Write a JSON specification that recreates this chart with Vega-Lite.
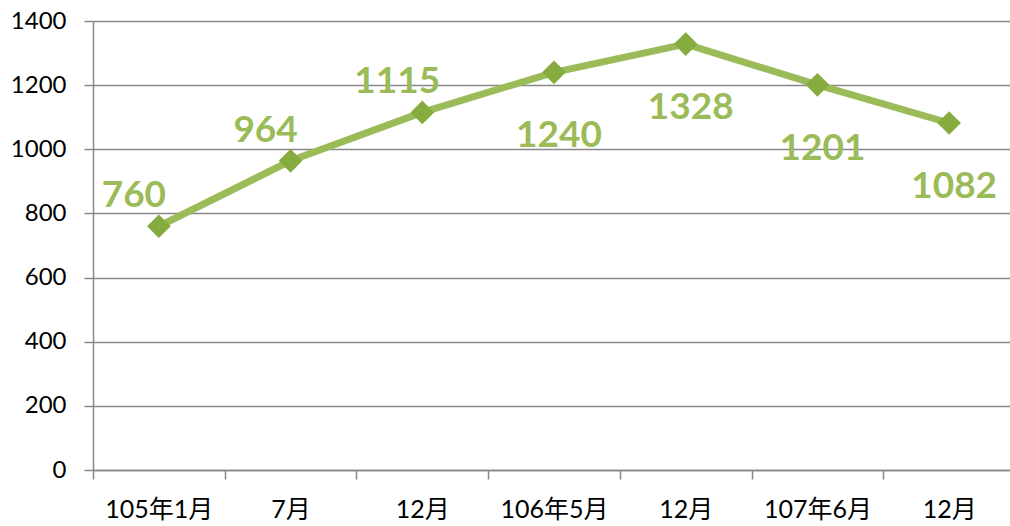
{
  "$schema": "https://vega.github.io/schema/vega-lite/v6.json",
  "width": 922,
  "height": 449,
  "autosize": {"type": "none"},
  "padding": {"left": 93, "top": 21, "right": 0, "bottom": 56},
  "background": "white",
  "config": {
    "view": {"stroke": null},
    "font": "Lato, Noto Sans CJK TC"
  },
  "data": {
    "values": [
      {"period": "105年1月", "value": 760, "pos": "above"},
      {"period": "7月 ", "value": 964, "pos": "above"},
      {"period": "12月", "value": 1115, "pos": "above"},
      {"period": "106年5月", "value": 1240, "pos": "below"},
      {"period": "12月 ", "value": 1328, "pos": "below"},
      {"period": "107年6月", "value": 1201, "pos": "below"},
      {"period": "12月  ", "value": 1082, "pos": "below"}
    ]
  },
  "encoding": {
    "x": {
      "field": "period",
      "type": "nominal",
      "sort": null,
      "scale": {"type": "band", "paddingInner": 0, "paddingOuter": 0},
      "axis": {
        "title": null,
        "labelAngle": 0,
        "labelFont": "Lato, Noto Sans CJK TC",
        "labelFontSize": 25,
        "labelColor": "#000000",
        "labelPadding": 18,
        "tickBand": "extent",
        "tickSize": 9,
        "tickWidth": 1.5,
        "tickColor": "#888888",
        "domainColor": "#888888",
        "domainWidth": 1.5,
        "grid": false
      }
    },
    "y": {
      "field": "value",
      "type": "quantitative",
      "scale": {"domain": [0, 1400], "nice": false},
      "axis": {
        "title": null,
        "format": "d",
        "values": [0, 200, 400, 600, 800, 1000, 1200, 1400],
        "labelFont": "Lato",
        "labelFontSize": 24,
        "labelColor": "#000000",
        "labelPadding": 18,
        "tickSize": 9,
        "tickWidth": 1.5,
        "tickColor": "#888888",
        "domainColor": "#888888",
        "domainWidth": 1.5,
        "grid": true,
        "gridColor": "#888888",
        "gridWidth": 1.5
      }
    }
  },
  "layer": [
    {
      "mark": {"type": "line", "color": "#9BBB59", "strokeWidth": 7}
    },
    {
      "mark": {"type": "point", "shape": "diamond", "filled": true, "size": 560, "color": "#86AC40", "opacity": 1}
    },
    {
      "transform": [{"filter": "datum.pos == 'above'"}],
      "mark": {"type": "text", "font": "Lato", "fontSize": 37, "fontWeight": "bold", "color": "#9BBB59", "align": "center", "baseline": "middle", "dx": -25, "dy": -30},
      "encoding": {"text": {"field": "value", "type": "quantitative"}}
    },
    {
      "transform": [{"filter": "datum.pos == 'below'"}],
      "mark": {"type": "text", "font": "Lato", "fontSize": 37, "fontWeight": "bold", "color": "#9BBB59", "align": "center", "baseline": "middle", "dx": 5, "dy": 64},
      "encoding": {"text": {"field": "value", "type": "quantitative"}}
    }
  ]
}
